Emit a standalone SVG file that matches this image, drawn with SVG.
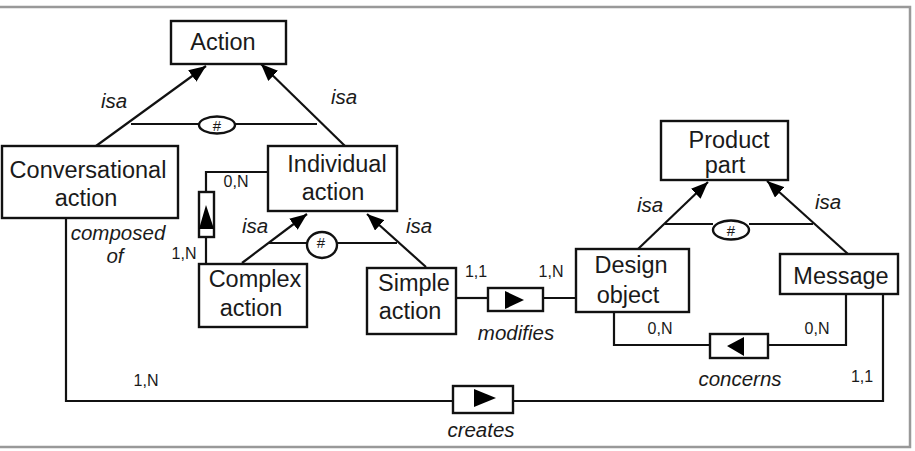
<svg xmlns="http://www.w3.org/2000/svg" width="915" height="451" viewBox="0 0 915 451">
<style>
.box{fill:#fff;stroke:#111;stroke-width:2.4}
.ln{fill:none;stroke:#111;stroke-width:2.2}
.t{font-family:"Liberation Sans",Arial,sans-serif;font-size:23.5px;fill:#1a1a1a;text-anchor:middle}
.l{font-family:"Liberation Sans",Arial,sans-serif;font-size:20.5px;font-style:italic;fill:#1a1a1a;text-anchor:middle}
.c{font-family:"Liberation Sans",Arial,sans-serif;font-size:16px;fill:#1a1a1a;text-anchor:middle}
.h{font-family:"Liberation Sans",Arial,sans-serif;font-size:15px;fill:#1a1a1a;text-anchor:middle}
.tri{fill:#000;stroke:none}
</style>
<defs>
<marker id="arr" markerUnits="userSpaceOnUse" markerWidth="18" markerHeight="14" refX="17" refY="7" orient="auto">
<path d="M0,0 L17,7 L0,14 z" fill="#000"/>
</marker>
</defs>
<rect x="-3" y="7" width="913" height="440" fill="#fff" stroke="#999" stroke-width="2.5"/>
<g id="connectors">
<!-- isa Action -->
<line class="ln" x1="96" y1="146" x2="206" y2="66" marker-end="url(#arr)"/>
<line class="ln" x1="345" y1="146" x2="261" y2="64" marker-end="url(#arr)"/>
<line class="ln" x1="131" y1="124" x2="199" y2="124"/>
<line class="ln" x1="235" y1="124" x2="317" y2="124"/>
<ellipse class="box" cx="217" cy="125" rx="18" ry="8.5" stroke-width="2"/>
<text class="h" x="217" y="131">#</text>
<text class="l" x="114" y="108">isa</text>
<text class="l" x="344" y="104">isa</text>
<!-- isa Individual -->
<line class="ln" x1="242" y1="263" x2="307" y2="214" marker-end="url(#arr)"/>
<line class="ln" x1="426" y1="267" x2="367" y2="214" marker-end="url(#arr)"/>
<line class="ln" x1="269" y1="243" x2="307" y2="243"/>
<line class="ln" x1="337" y1="243" x2="397" y2="243"/>
<ellipse class="box" cx="322" cy="245" rx="15" ry="13" stroke-width="2"/>
<text class="h" x="321" y="248">#</text>
<text class="l" x="255" y="233">isa</text>
<text class="l" x="419" y="233">isa</text>
<!-- isa Product part -->
<line class="ln" x1="638" y1="249" x2="708" y2="182" marker-end="url(#arr)"/>
<line class="ln" x1="848" y1="254" x2="767" y2="181" marker-end="url(#arr)"/>
<line class="ln" x1="665" y1="224" x2="713" y2="224"/>
<line class="ln" x1="749" y1="224" x2="813" y2="224"/>
<ellipse class="box" cx="731" cy="230" rx="18" ry="9.5" stroke-width="2"/>
<text class="h" x="731" y="236">#</text>
<text class="l" x="650" y="212">isa</text>
<text class="l" x="828" y="209">isa</text>
<!-- composed of -->
<polyline class="ln" points="268,172 206,172 206,192"/>
<line class="ln" x1="206" y1="237" x2="206" y2="264"/>
<rect class="box" x="199" y="192" width="15" height="45" stroke-width="2"/>
<path class="tri" d="M206,205 L214,229 L199,229 z"/>
<text class="c" x="236" y="187">0,N</text>
<text class="c" x="184" y="259">1,N</text>
<text class="l" x="118" y="240">composed</text>
<text class="l" x="115" y="263">of</text>
<!-- modifies -->
<line class="ln" x1="456" y1="298" x2="488" y2="298"/>
<line class="ln" x1="543" y1="298" x2="576" y2="298"/>
<rect class="box" x="488" y="288" width="55" height="23" stroke-width="2"/>
<path class="tri" d="M505,291 L524,300 L505,309 z"/>
<text class="c" x="476" y="277">1,1</text>
<text class="c" x="551" y="277">1,N</text>
<text class="l" x="516" y="340">modifies</text>
<!-- concerns -->
<polyline class="ln" points="614,312 614,345 710,345"/>
<polyline class="ln" points="768,345 846,345 846,294"/>
<rect class="box" x="710" y="334" width="58" height="24" stroke-width="2"/>
<path class="tri" d="M727,346 L744,337 L744,356 z"/>
<text class="c" x="660" y="334">0,N</text>
<text class="c" x="817" y="334">0,N</text>
<text class="l" x="740" y="386">concerns</text>
<!-- creates -->
<polyline class="ln" points="66,218 66,401 453,401"/>
<polyline class="ln" points="513,401 883,401 883,294"/>
<rect class="box" x="453" y="386" width="60" height="27" stroke-width="2"/>
<path class="tri" d="M474,389 L496,398 L474,407 z"/>
<text class="c" x="146" y="386">1,N</text>
<text class="c" x="862" y="382">1,1</text>
<text class="l" x="481" y="437">creates</text>
</g>
<g id="action">
<rect class="box" x="171" y="21" width="115" height="43"/>
<text class="t" x="223" y="50">Action</text>
</g>
<g id="conversational-action">
<rect class="box" x="2" y="146" width="176" height="72"/>
<text class="t" x="88" y="178">Conversational</text>
<text class="t" x="86" y="206">action</text>
</g>
<g id="individual-action">
<rect class="box" x="268" y="146" width="129" height="65"/>
<text class="t" x="337" y="172">Individual</text>
<text class="t" x="333" y="200">action</text>
</g>
<g id="complex-action">
<rect class="box" x="199" y="264" width="108" height="63"/>
<text class="t" x="255" y="287">Complex</text>
<text class="t" x="251" y="316">action</text>
</g>
<g id="simple-action">
<rect class="box" x="367" y="268" width="89" height="66"/>
<text class="t" x="414" y="291">Simple</text>
<text class="t" x="410" y="319">action</text>
</g>
<g id="product-part">
<rect class="box" x="661" y="121" width="127" height="59"/>
<text class="t" x="729" y="148">Product</text>
<text class="t" x="725" y="173">part</text>
</g>
<g id="design-object">
<rect class="box" x="576" y="249" width="113" height="63"/>
<text class="t" x="631" y="273">Design</text>
<text class="t" x="628" y="303">object</text>
</g>
<g id="message">
<rect class="box" x="780" y="254" width="118" height="40"/>
<text class="t" x="841" y="284">Message</text>
</g>
</svg>
